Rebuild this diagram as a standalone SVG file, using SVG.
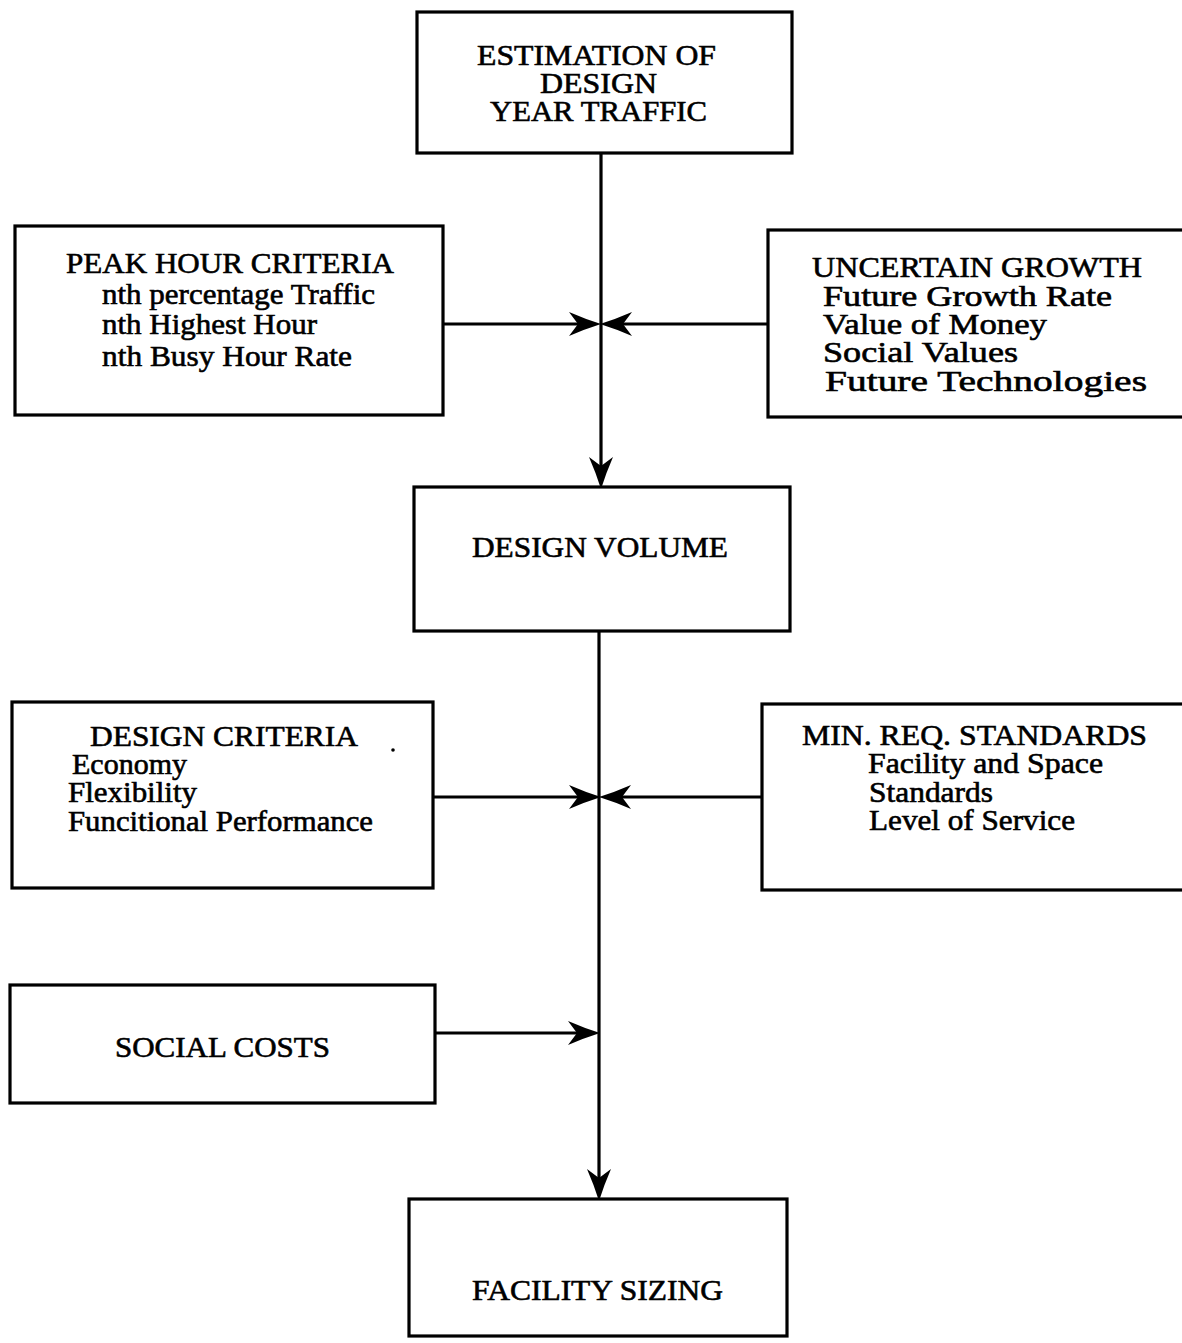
<svg xmlns="http://www.w3.org/2000/svg" width="1182" height="1343" viewBox="0 0 1182 1343">
<style>
.box{fill:#fff;stroke:#000;stroke-width:3.2}
.t{font-family:"Liberation Serif","Times New Roman",serif;font-size:29px;fill:#000;stroke:#000;stroke-width:0.6}
.ln{fill:none;stroke:#000;stroke-width:3.2}
</style>
<defs>
<marker id="ah" viewBox="0 0 32 24" markerWidth="32" markerHeight="24" refX="22" refY="12" orient="auto" markerUnits="userSpaceOnUse">
<path d="M32,12 Q16,7 0,0 L9,12 L0,24 Q16,17 32,12 Z" fill="#000"/>
</marker>
</defs>
<rect width="1182" height="1343" fill="#fff"/>
<g id="connectors">
<line class="ln" x1="601" y1="153" x2="601" y2="479" marker-end="url(#ah)"/>
<line class="ln" x1="599" y1="631" x2="599" y2="1191" marker-end="url(#ah)"/>
<line class="ln" x1="443" y1="324" x2="591" y2="324" marker-end="url(#ah)"/>
<line class="ln" x1="768" y1="324" x2="610" y2="324" marker-end="url(#ah)"/>
<line class="ln" x1="433" y1="797" x2="591" y2="797" marker-end="url(#ah)"/>
<line class="ln" x1="762" y1="797" x2="609" y2="797" marker-end="url(#ah)"/>
<line class="ln" x1="435" y1="1033" x2="590" y2="1033" marker-end="url(#ah)"/>
</g>
<g id="estimation">
<rect class="box" x="417" y="12" width="375" height="141"/>
<text class="t" x="477" y="65" textLength="239" lengthAdjust="spacingAndGlyphs">ESTIMATION OF</text>
<text class="t" x="540" y="93" textLength="117" lengthAdjust="spacingAndGlyphs">DESIGN</text>
<text class="t" x="490" y="121" textLength="217" lengthAdjust="spacingAndGlyphs">YEAR TRAFFIC</text>
</g>
<g id="peak-hour">
<rect class="box" x="15" y="226" width="428" height="189"/>
<text class="t" x="66" y="273" textLength="328" lengthAdjust="spacingAndGlyphs">PEAK HOUR CRITERIA</text>
<text class="t" x="102" y="304" textLength="273" lengthAdjust="spacingAndGlyphs">nth percentage Traffic</text>
<text class="t" x="102" y="334" textLength="215" lengthAdjust="spacingAndGlyphs">nth Highest Hour</text>
<text class="t" x="102" y="366" textLength="250" lengthAdjust="spacingAndGlyphs">nth Busy Hour Rate</text>
</g>
<g id="uncertain-growth">
<rect class="box" x="768" y="230" width="420" height="187"/>
<text class="t" x="812" y="277" textLength="330" lengthAdjust="spacingAndGlyphs">UNCERTAIN GROWTH</text>
<text class="t" x="823" y="306" textLength="289" lengthAdjust="spacingAndGlyphs">Future Growth Rate</text>
<text class="t" x="823" y="334" textLength="224" lengthAdjust="spacingAndGlyphs">Value of Money</text>
<text class="t" x="823" y="362" textLength="195" lengthAdjust="spacingAndGlyphs">Social Values</text>
<text class="t" x="825" y="391" textLength="322" lengthAdjust="spacingAndGlyphs">Future Technologies</text>
</g>
<g id="design-volume">
<rect class="box" x="414" y="487" width="376" height="144"/>
<text class="t" x="472" y="557" textLength="256" lengthAdjust="spacingAndGlyphs">DESIGN VOLUME</text>
</g>
<g id="design-criteria">
<rect class="box" x="12" y="702" width="421" height="186"/>
<text class="t" x="90" y="746" textLength="268" lengthAdjust="spacingAndGlyphs">DESIGN CRITERIA</text>
<circle cx="393" cy="750" r="1.8" fill="#000"/>
<text class="t" x="72" y="774" textLength="115" lengthAdjust="spacingAndGlyphs">Economy</text>
<text class="t" x="68" y="802" textLength="129" lengthAdjust="spacingAndGlyphs">Flexibility</text>
<text class="t" x="68" y="831" textLength="305" lengthAdjust="spacingAndGlyphs">Funcitional Performance</text>
</g>
<g id="min-req-standards">
<rect class="box" x="762" y="704" width="426" height="186"/>
<text class="t" x="802" y="745" textLength="345" lengthAdjust="spacingAndGlyphs">MIN. REQ. STANDARDS</text>
<text class="t" x="868" y="773" textLength="235" lengthAdjust="spacingAndGlyphs">Facility and Space</text>
<text class="t" x="869" y="802" textLength="124" lengthAdjust="spacingAndGlyphs">Standards</text>
<text class="t" x="869" y="830" textLength="206" lengthAdjust="spacingAndGlyphs">Level of Service</text>
</g>
<g id="social-costs">
<rect class="box" x="10" y="985" width="425" height="118"/>
<text class="t" x="115" y="1057" textLength="215" lengthAdjust="spacingAndGlyphs">SOCIAL COSTS</text>
</g>
<g id="facility-sizing">
<rect class="box" x="409" y="1199" width="378" height="137"/>
<text class="t" x="472" y="1300" textLength="251" lengthAdjust="spacingAndGlyphs">FACILITY SIZING</text>
</g>
</svg>
